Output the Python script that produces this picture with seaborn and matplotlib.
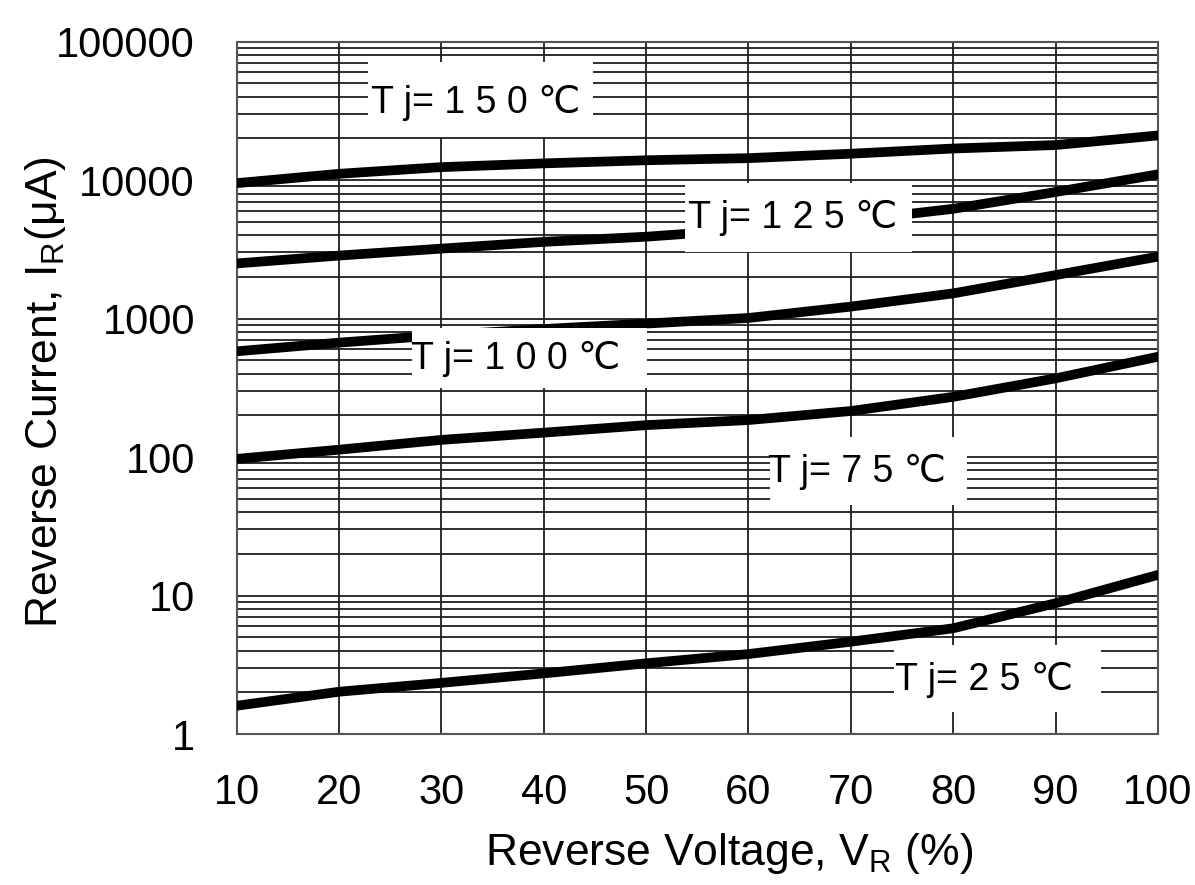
import numpy as np
import pandas as pd
import matplotlib
matplotlib.use('Agg')
import matplotlib.pyplot as plt
import seaborn as sns
from matplotlib.patches import Rectangle
from matplotlib.ticker import LogLocator, NullFormatter

# reverse voltage (% of rated)
voltage = [10, 20, 30, 40, 50, 60, 70, 80, 90, 100]

# reverse current in uA
ir_150 = [9500, 11100, 12400, 13200, 13900, 14400, 15500, 16900, 17900, 21000]
ir_125 = [2500, 2850, 3200, 3580, 3900, 4400, 5100, 6200, 8200, 11000]
ir_100 = [580, 670, 760, 840, 920, 1010, 1220, 1520, 2060, 2800]
ir_75 = [97, 113, 133, 150, 170, 185, 215, 272, 370, 530]
ir_25 = [1.6, 2.02, 2.34, 2.74, 3.24, 3.78, 4.64, 5.8, 8.8, 14.1]

temps = ['150', '125', '100', '75', '25']
curve_labels = ['T j= 1 5 0 ℃', 'T j= 1 2 5 ℃', 'T j= 1 0 0 ℃', 'T j= 7 5 ℃', 'T j= 2 5 ℃']

y_ticks = [1, 10, 100, 1000, 10000, 100000]
y_tick_labels = ['1', '10', '100', '1000', '10000', '100000']
x_ticks = [10, 20, 30, 40, 50, 60, 70, 80, 90, 100]

df = pd.DataFrame({
    'V': voltage * 5,
    'IR': ir_150 + ir_125 + ir_100 + ir_75 + ir_25,
    'Tj': np.repeat(temps, len(voltage)),
})

sns.set_style('white')
plt.rcParams['font.family'] = ['Liberation Sans', 'DejaVu Sans']
plt.rcParams['mathtext.default'] = 'regular'
plt.rcParams['text.color'] = 'black'
plt.rcParams['axes.labelcolor'] = 'black'
plt.rcParams['xtick.color'] = 'black'
plt.rcParams['ytick.color'] = 'black'

fig = plt.figure(figsize=(11.95, 8.85), dpi=100)
ax = fig.add_axes([0.198, 0.1706, 0.771, 0.7824])

sns.lineplot(data=df, x='V', y='IR', hue='Tj', palette=['black'] * 5,
             legend=False, lw=7, ax=ax, zorder=3)

ax.set_yscale('log')
ax.set_xlim(10, 100)
ax.set_ylim(1, 100000)
ax.set_xticks(x_ticks)
ax.set_xticklabels([str(t) for t in x_ticks])
ax.set_yticks(y_ticks)
ax.set_yticklabels(y_tick_labels)
ax.yaxis.set_minor_locator(LogLocator(base=10, subs=range(2, 10)))
ax.yaxis.set_minor_formatter(NullFormatter())
ax.grid(True, which='both', axis='both', color='#1e1e1e', lw=1.3)
ax.tick_params(axis='both', which='both', length=0, labelsize=30)
ax.tick_params(axis='y', pad=30)
ax.tick_params(axis='x', pad=28)
for s in ax.spines.values():
    s.set_color('#555555')
    s.set_linewidth(1.5)

# white label boxes (x0, x1, y0, y1) in data units, text centre
boxes = [
    (22.8, 44.8, 20400, 71100, 33.3, 36000),
    (53.8, 75.95, 3035, 9470, 64.3, 5300),
    (27.1, 50.05, 313, 849, 37.3, 510),
    (62.1, 81.3, 45, 140, 70.6, 78),
    (74.2, 94.4, 1.45, 4.39, 83.0, 2.45),
]
for (x0, x1, y0, y1, tx, ty), lab in zip(boxes, curve_labels):
    ax.add_patch(Rectangle((x0, y0), x1 - x0, y1 - y0, facecolor='white',
                           edgecolor='none', zorder=4))
    ax.text(tx, ty, lab, ha='center', va='center', fontsize=27, zorder=5,
            color='black')

ax.set_xlabel('Reverse Voltage, V$_{R}$ (%)', fontsize=32)
ax.set_ylabel('Reverse Current, I$_{R}$(μA)', fontsize=32)
ax.xaxis.set_label_coords(0.535, -0.14)
ax.yaxis.set_label_coords(-0.183, 0.494)

fig.savefig('out.png', dpi=100)
